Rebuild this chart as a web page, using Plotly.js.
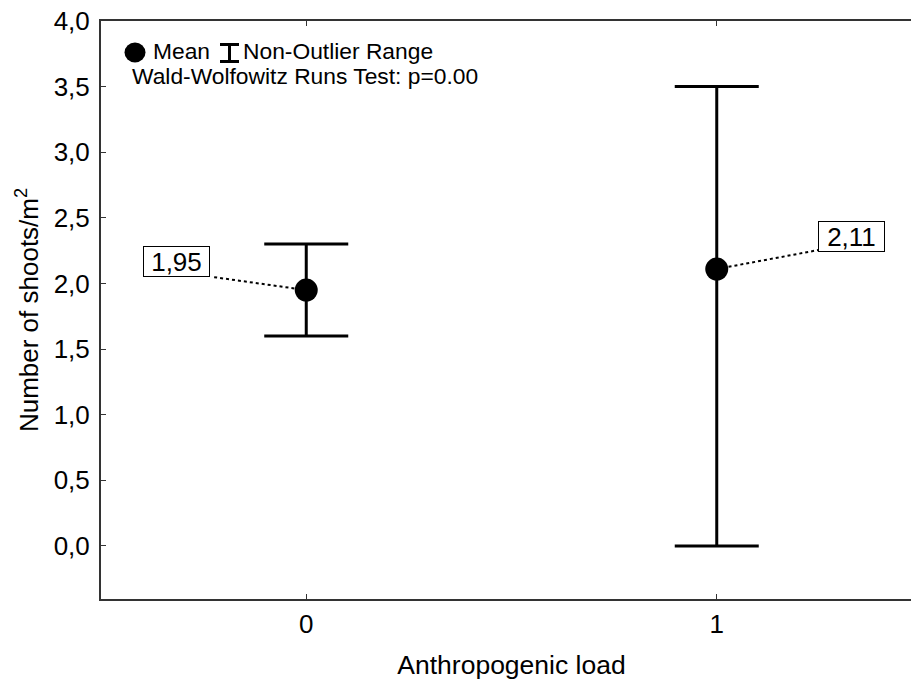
<!DOCTYPE html>
<html>
<head>
<meta charset="utf-8">
<script src="https://cdn.plot.ly/plotly-3.0.1.min.js"></script>
<style>
  html, body { margin: 0; padding: 0; overflow: hidden; background: #fff; }
  #chart { width: 924px; height: 680px; }
</style>
</head>
<body>
<div id="chart"></div>
<script>
// ---- data ----
const categories = [0, 1];
const means = [1.95, 2.11];
const nonOutlierMin = [1.6, 0.0];
const nonOutlierMax = [2.3, 3.5];
const yTickVals = [0, 0.5, 1, 1.5, 2, 2.5, 3, 3.5, 4];
const xTickLabels = ['0', '1'];
const xTitle = 'Anthropogenic load';
const yTitle = 'Number of shoots/m<sup>2</sup>';
const legendMeanText = 'Mean';
const legendRangeText = 'Non-Outlier Range';
const testText = 'Wald-Wolfowitz Runs Test: p=0.00';

const FONT = 'Arial, "Liberation Sans", sans-serif';
const fmt = v => v.toFixed(2).replace('.', ',');

const trace = {
  type: 'scatter',
  mode: 'markers',
  x: categories,
  y: means,
  marker: { color: '#000', size: 23 },
  error_y: {
    type: 'data',
    symmetric: false,
    array: means.map((m, i) => nonOutlierMax[i] - m),
    arrayminus: means.map((m, i) => m - nonOutlierMin[i]),
    color: '#000',
    thickness: 3,
    width: 42
  },
  hoverinfo: 'skip',
  showlegend: false
};

// label offsets (pixels) for the value boxes and their leader lines
const labelShift = [[-129.5, 28.6], [134.3, 32.5]];
const leaderEnd = [[-93, 13], [101.6, 19]];

const annotations = categories.map((c, i) => ({
  x: c, y: means[i], xref: 'x', yref: 'y',
  text: fmt(means[i]),
  showarrow: false,
  xshift: labelShift[i][0], yshift: labelShift[i][1],
  width: 65, height: 29,
  bordercolor: '#000', borderwidth: 1, borderpad: 0,
  bgcolor: '#fff',
  font: { family: FONT, size: 26, color: '#000' }
}));

const shapes = categories.map((c, i) => ({
  type: 'line', layer: 'below',
  xref: 'x', yref: 'y',
  xsizemode: 'pixel', ysizemode: 'pixel',
  xanchor: c, yanchor: means[i],
  x0: 0, y0: 0, x1: leaderEnd[i][0], y1: leaderEnd[i][1],
  line: { color: '#000', width: 2, dash: 'dot' }
}));

// legend decorations (paper coords anchored, pixel-sized)
const L = 101, W = 821, T = 21, H = 578;
const px = x => (x - L) / W;
const py = y => (T + H - y) / H;

shapes.push({
  type: 'circle', xref: 'paper', yref: 'paper',
  xsizemode: 'pixel', ysizemode: 'pixel',
  xanchor: px(135), yanchor: py(52.5),
  x0: -10.5, x1: 10.5, y0: -10, y1: 10,
  fillcolor: '#000', line: { color: '#000', width: 0 }
});
const ibx = px(229.5), iby = py(53);
[[-9.5, 8.5, 9.5, 8.5], [0, 8.5, 0, -8.5], [-9.5, -8.5, 9.5, -8.5]].forEach(s => {
  shapes.push({
    type: 'line', xref: 'paper', yref: 'paper',
    xsizemode: 'pixel', ysizemode: 'pixel',
    xanchor: ibx, yanchor: iby,
    x0: s[0], y0: s[1], x1: s[2], y1: s[3],
    line: { color: '#000', width: 3 }
  });
});

annotations.push(
  { xref: 'paper', yref: 'paper', x: px(152), y: py(51), xanchor: 'left', yanchor: 'middle',
    text: legendMeanText, showarrow: false, borderpad: 0, font: { family: FONT, size: 22.8, color: '#000' } },
  { xref: 'paper', yref: 'paper', x: px(242), y: py(51), xanchor: 'left', yanchor: 'middle',
    text: legendRangeText, showarrow: false, borderpad: 0, font: { family: FONT, size: 22.8, color: '#000' } },
  { xref: 'paper', yref: 'paper', x: px(131), y: py(76.5), xanchor: 'left', yanchor: 'middle',
    text: testText, showarrow: false, borderpad: 0, font: { family: FONT, size: 22.8, color: '#000' } }
);

const axisCommon = {
  showline: true, linecolor: '#333', linewidth: 2,
  ticks: 'inside', ticklen: 5, tickwidth: 1, tickcolor: '#333',
  mirror: 'ticks', showgrid: false, zeroline: false,
  tickfont: { family: FONT, size: 26, color: '#000' }
};

const layout = {
  width: 924, height: 680,
  margin: { l: 101, r: 2, t: 21, b: 81 },
  paper_bgcolor: '#fff', plot_bgcolor: '#fff',
  separators: ',.',
  showlegend: false,
  font: { family: FONT, color: '#000' },
  xaxis: Object.assign({}, axisCommon, {
    range: [-0.5, 1.5],
    tickvals: categories, ticktext: xTickLabels,
    ticklabelstandoff: 1,
    title: { text: xTitle, font: { family: FONT, size: 26.5, color: '#000' }, standoff: 18 }
  }),
  yaxis: Object.assign({}, axisCommon, {
    range: [-0.404, 4.0],
    tickvals: yTickVals, tickformat: '.1f',
    ticklabelstandoff: 4,
    title: { text: yTitle, font: { family: FONT, size: 26, color: '#000' }, standoff: 8 }
  }),
  shapes: shapes,
  annotations: annotations
};

Plotly.newPlot('chart', [trace], layout, { staticPlot: true, displayModeBar: false });
</script>
</body>
</html>
